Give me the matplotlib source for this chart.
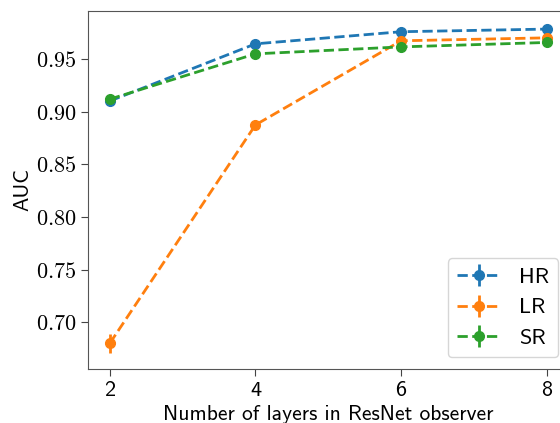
import matplotlib
matplotlib.use("Agg")
import matplotlib.pyplot as plt
from matplotlib.ticker import FuncFormatter

plt.rcParams["mathtext.fontset"] = "cm"

layers = [2, 4, 6, 8]
hr = [0.910, 0.9643, 0.9758, 0.9783]
hr_err = [0.003, 0.002, 0.002, 0.002]
lr = [0.680, 0.8873, 0.9672, 0.970]
lr_err = [0.009, 0.005, 0.002, 0.002]
sr = [0.9118, 0.9548, 0.9614, 0.9656]
sr_err = [0.003, 0.002, 0.002, 0.002]
names = ["HR", "LR", "SR"]

fig = plt.figure(figsize=(5.6, 4.23), dpi=100)
ax = fig.add_axes([88 / 560, 54 / 423, 480.5 / 560, 358.3 / 423])

for vals, errs, name, c in zip([hr, lr, sr], [hr_err, lr_err, sr_err], names,
                               ["#1f77b4", "#ff7f0e", "#2ca02c"]):
    ax.errorbar(layers, vals, yerr=errs, fmt="--o", color=c, lw=2, ms=7,
                elinewidth=2, capsize=0, label=name)

ax.set_xticks(layers)
ax.set_yticks([0.70, 0.75, 0.80, 0.85, 0.90, 0.95])
ax.yaxis.set_major_formatter(FuncFormatter(lambda v, p: r"$%.2f$" % v))
ax.tick_params(labelsize=16, length=5, color="#444444")
for lab in ax.get_xticklabels():
    lab.set_family("cmss10")
for s in ax.spines.values():
    s.set_color("#555555")

ax.set_xlabel("Number of layers in ResNet observer", fontsize=15.5, family="cmss10", labelpad=4)
ax.set_ylabel("AUC", fontsize=15.5, family="cmss10", labelpad=2)

ax.legend(loc="lower right", bbox_to_anchor=(558 / 560, 66 / 423),
          bbox_transform=fig.transFigure, borderaxespad=0,
          prop={"family": "cmss10", "size": 16})

fig.savefig("out.png", dpi=100)
